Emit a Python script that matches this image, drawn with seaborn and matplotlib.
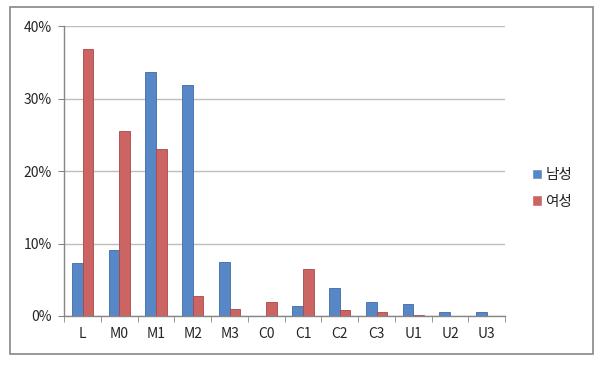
import pandas as pd
import matplotlib.pyplot as plt
import seaborn as sns
from matplotlib.patches import Rectangle
from matplotlib.ticker import PercentFormatter, FixedLocator

grades = ["L", "M0", "M1", "M2", "M3", "C0", "C1", "C2", "C3", "U1", "U2", "U3"]
male = [7.3, 9.1, 33.7, 31.9, 7.4, 0.0, 1.4, 3.8, 1.9, 1.7, 0.5, 0.5]
female = [36.9, 25.5, 23.1, 2.8, 1.0, 1.9, 6.5, 0.8, 0.5, 0.2, 0.0, 0.0]
series = ["남성", "여성"]
colors = ["#5787C6", "#CD6464"]
edges = ["#3D6BA6", "#A84848"]

df = pd.DataFrame({"grade": grades * 2,
                   "value": male + female,
                   "sex": [series[0]] * len(grades) + [series[1]] * len(grades)})

sns.set_style("white")
plt.rcParams['font.family'] = ['Noto Sans CJK KR', 'DejaVu Sans']

fig = plt.figure(figsize=(6, 3.67), dpi=100)
ax = fig.add_axes([0.107, 0.139, 0.735, 0.79])
sns.barplot(data=df, x="grade", y="value", hue="sex", order=grades, hue_order=series,
            palette=colors, width=0.58, saturation=1, ax=ax, legend=True)

# darker outlines like the original
for cont, ec in zip(ax.containers, edges):
    for p in cont:
        p.set_edgecolor(ec)
        p.set_linewidth(0.6)

ax.set_ylim(0, 40)
ax.set_xlim(-0.5, len(grades) - 0.5)
ax.set_yticks([0, 10, 20, 30, 40])
ax.yaxis.set_major_formatter(PercentFormatter(decimals=0))
ax.yaxis.grid(True, color="#BDBDBD", linewidth=1)
ax.set_axisbelow(True)
ax.set_xlabel("")
ax.set_ylabel("")
for s in ["top", "right"]:
    ax.spines[s].set_visible(False)
for s in ["left", "bottom"]:
    ax.spines[s].set_color("#868686")
    ax.spines[s].set_linewidth(1)

ax.tick_params(axis="y", labelsize=10, length=4, direction="out", color="#868686", left=True, pad=5)
ax.tick_params(axis="x", which="major", labelsize=10, length=0, pad=8)
ax.xaxis.set_minor_locator(FixedLocator([i - 0.5 for i in range(len(grades) + 1)]))
ax.tick_params(axis="x", which="minor", length=4, direction="out", color="#868686", bottom=True)

ax.legend(loc="center left", bbox_to_anchor=(1.03, 0.44), frameon=False, fontsize=10.5,
          handlelength=0.75, handleheight=0.75, handletextpad=0.2, labelspacing=0.85)

fig.patches.append(Rectangle((0.017, 0.035), 0.972, 0.945, transform=fig.transFigure,
                             fill=False, edgecolor="#868686", linewidth=1.2))

fig.savefig("out.png", dpi=100)
